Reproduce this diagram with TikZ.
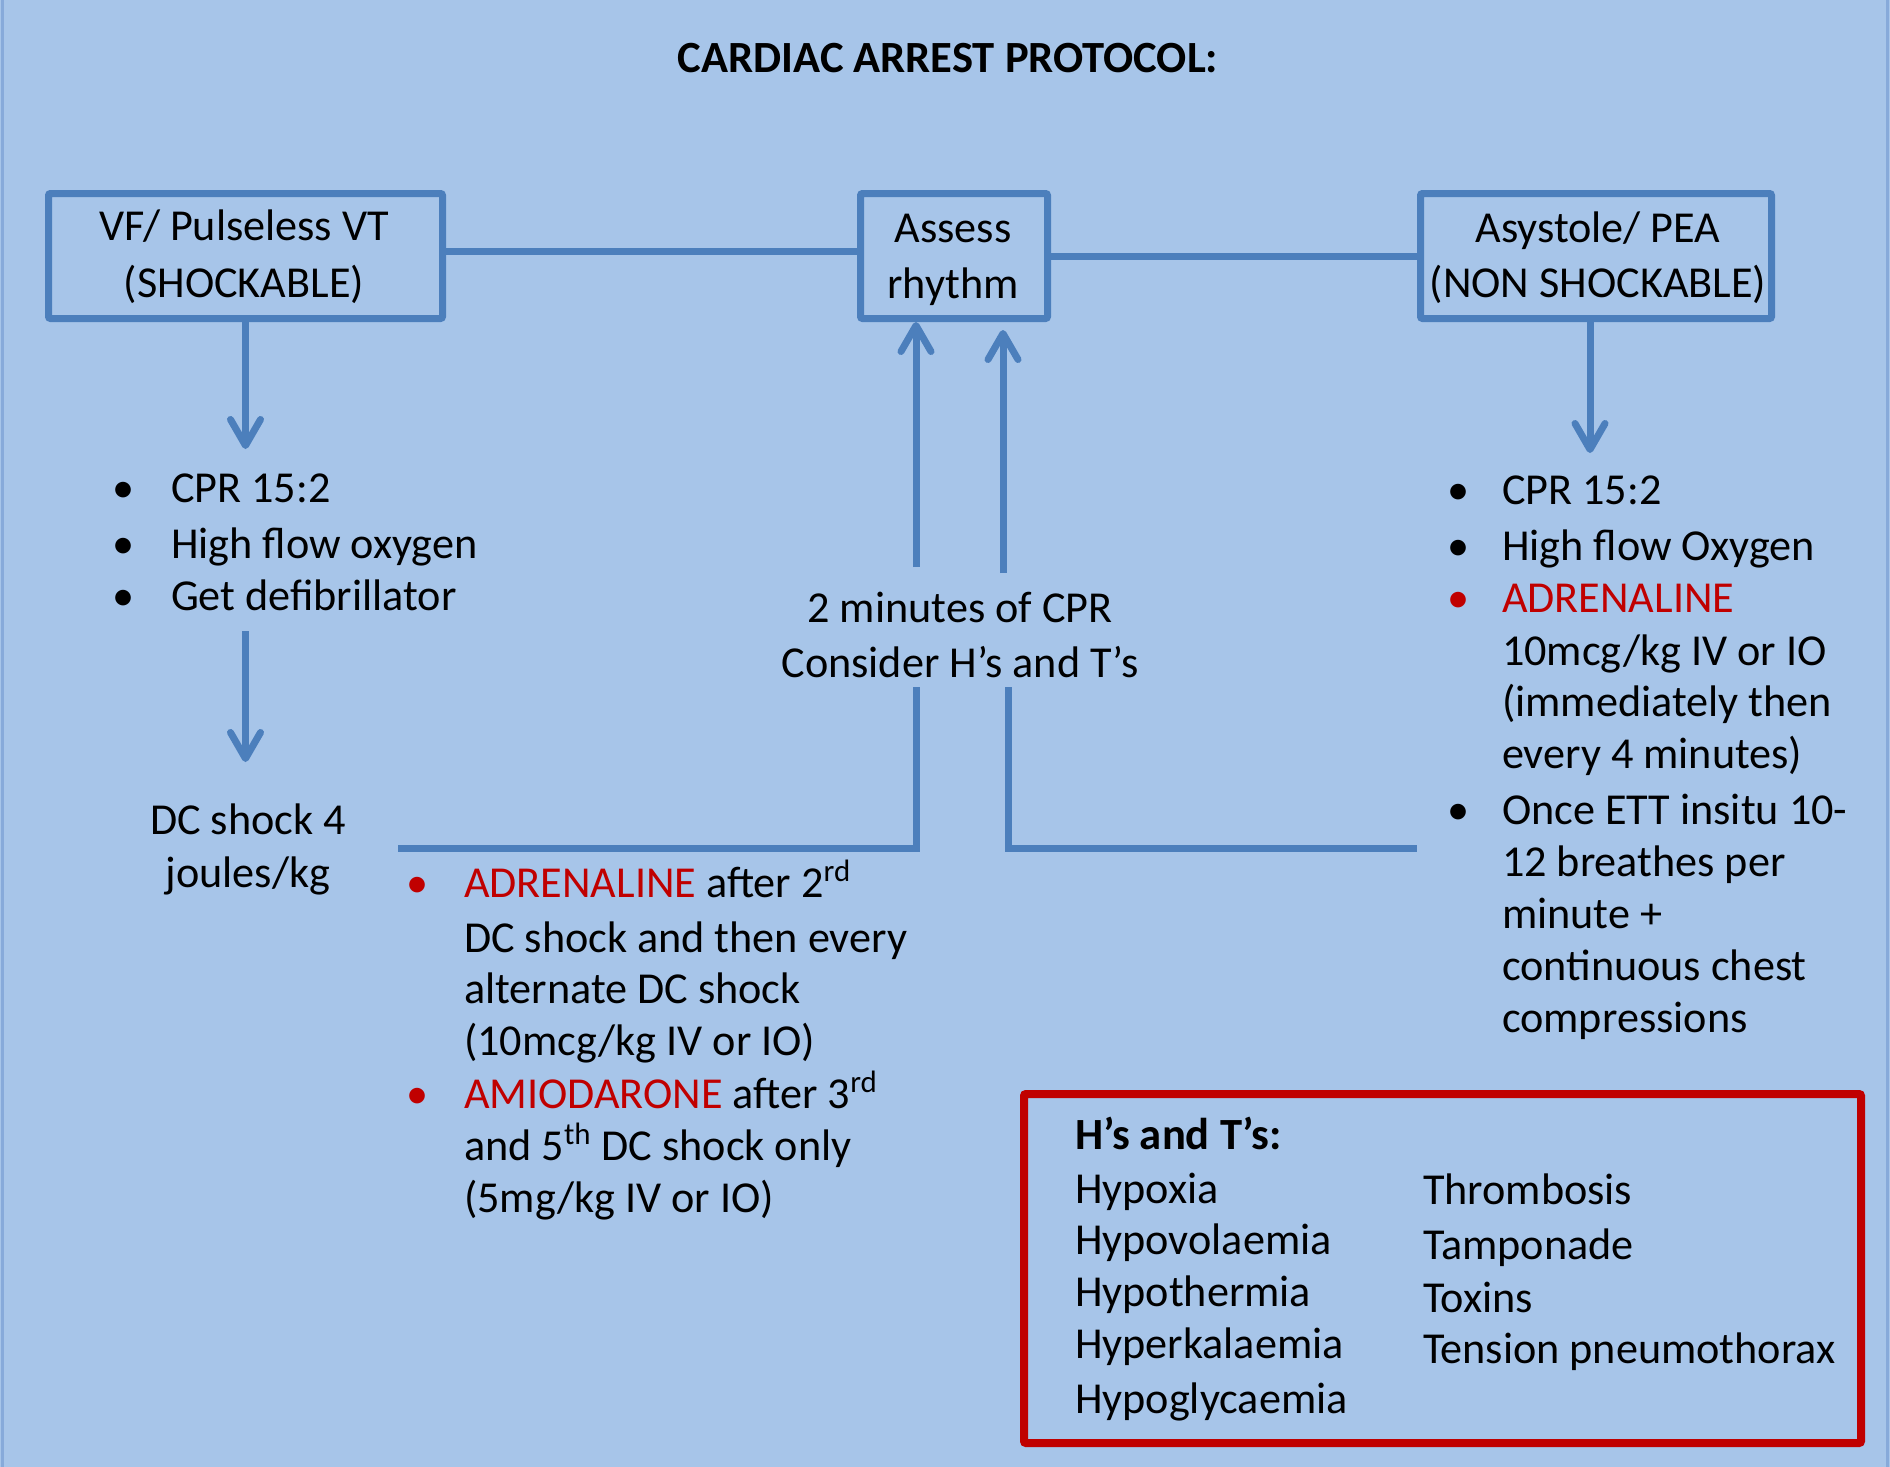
\documentclass[tikz,border=0pt]{standalone}
\usepackage{fontspec}
\setmainfont{Carlito}
\usetikzlibrary{arrows.meta}
\definecolor{bgblue}{RGB}{167,197,233}
\definecolor{lineblue}{RGB}{76,127,188}
\definecolor{redc}{RGB}{192,0,0}
\definecolor{edgeblue}{RGB}{135,170,218}
\newcommand\cafont{\fontsize{22.1pt}{26pt}\selectfont}
\newcommand\catitle{\fontsize{22.3pt}{26pt}\selectfont\bfseries}
\begin{document}
\begin{tikzpicture}[x=0.5pt,y=-0.5pt,
  txt/.style={inner sep=0pt, outer sep=0pt, anchor=base west, font=\cafont},
  ctr/.style={inner sep=0pt, outer sep=0pt, anchor=base, font=\cafont},
  bul/.style={inner sep=0pt, outer sep=0pt, anchor=base, font=\cafont},
  flowbox/.style={draw=lineblue, line width=3.5pt, inner sep=0pt, rounded corners=1pt, minimum height=62.5pt},
  conn/.style={draw=lineblue, line width=3.5pt, line join=miter},
  arr/.style={conn, -{Straight Barb[round, length=13pt, width=15pt]}}
]
\fill[bgblue] (0,0) rectangle (1890,1467);
\useasboundingbox (0,0) rectangle (1890,1467);
\draw[edgeblue, line width=1.5pt] (2.5,0) -- (2.5,1467);
\draw[edgeblue, line width=1.5pt] (1887.5,0) -- (1887.5,1467);

% title
\node[ctr, font=\catitle] (title) at (948,72) {CARDIAC ARREST PROTOCOL:};

% boxes
\node[flowbox, minimum width=197pt] (lbox) at (245.5,256) {};
\node[flowbox, minimum width=93.5pt] (cbox) at (954,256) {};
\node[flowbox, minimum width=175.5pt] (rbox) at (1596,256) {};
\node[ctr] (lboxa) at (244,240) {VF/ Pulseless VT};
\node[ctr] (lboxb) at (244,297) {(SHOCKABLE)};
\node[ctr] (cboxa) at (953,242) {Assess};
\node[ctr] (cboxb) at (953,298) {rhythm};
\node[ctr] (rboxa) at (1598,242) {Asystole/ PEA};
\node[ctr] (rboxb) at (1598,297) {(NON SHOCKABLE)};

% left column
\node[bul] (lb1) at (124,502) {•};
\node[txt] (lt1) at (171,502) {CPR 15:2};
\node[bul] (lb2) at (124,558) {•};
\node[txt] (lt2) at (171,558) {High flow oxygen};
\node[bul] (lb3) at (124,610) {•};
\node[txt] (lt3) at (171,610) {Get defibrillator};
\node[ctr] (dc1) at (248,834) {DC shock 4};
\node[ctr] (dc2) at (248,887) {joules/kg};

% centre text
\node[ctr] (m1) at (960,622) {2 minutes of CPR};
\node[ctr] (m2) at (960,677) {Consider H’s and T’s};

% middle drugs list
\node[bul, text=redc] (mb1) at (418,897) {•};
\node[txt] (mt1) at (464,897) {\textcolor{redc}{ADRENALINE} after 2\textsuperscript{rd}};
\node[txt] (mt2) at (464,952) {DC shock and then every};
\node[txt] (mt3) at (464,1003) {alternate DC shock};
\node[txt] (mt4) at (464,1055) {(10mcg/kg IV or IO)};
\node[bul, text=redc] (mb2) at (418,1108) {•};
\node[txt] (mt5) at (464,1108) {\textcolor{redc}{AMIODARONE} after 3\textsuperscript{rd}};
\node[txt] (mt6) at (464,1160) {and 5\textsuperscript{th} DC shock only};
\node[txt] (mt7) at (464,1212) {(5mg/kg IV or IO)};

% right column
\node[bul] (rb1) at (1458,504) {•};
\node[txt] (rt1) at (1502,504) {CPR 15:2};
\node[bul] (rb2) at (1458,560) {•};
\node[txt] (rt2) at (1502,560) {High flow Oxygen};
\node[bul, text=redc] (rb3) at (1458,612) {•};
\node[txt, text=redc] (rt3) at (1502,612) {ADRENALINE};
\node[txt] (rt4) at (1502,665) {10mcg/kg IV or IO};
\node[txt] (rt5) at (1502,716) {(immediately then};
\node[txt] (rt6) at (1502,768) {every 4 minutes)};
\node[bul] (rb4) at (1458,824) {•};
\node[txt] (rt7) at (1502,824) {Once ETT insitu 10-};
\node[txt] (rt8) at (1502,876) {12 breathes per};
\node[txt] (rt9) at (1502,928) {minute +};
\node[txt] (rt10) at (1502,980) {continuous chest};
\node[txt] (rt11) at (1502,1032) {compressions};

% H's and T's box
\node[draw=redc, line width=4pt, inner sep=0pt, rounded corners=1pt, minimum width=418.5pt, minimum height=174.5pt] (hbox) at (1442.5,1268.5) {};
\node[txt, font=\catitle] (hh) at (1075,1149) {H’s and T’s:};
\node[txt] (h1) at (1075,1203) {Hypoxia};
\node[txt] (h2) at (1075,1254) {Hypovolaemia};
\node[txt] (h3) at (1075,1306) {Hypothermia};
\node[txt] (h4) at (1075,1358) {Hyperkalaemia};
\node[txt] (h5) at (1075,1413) {Hypoglycaemia};
\node[txt] (t1) at (1423,1204) {Thrombosis};
\node[txt] (t2) at (1423,1259) {Tamponade};
\node[txt] (t3) at (1423,1312) {Toxins};
\node[txt] (t4) at (1423,1363) {Tension pneumothorax};

% coordinates for free ends
\coordinate (la1) at (245.5,449);
\coordinate (la2s) at (245.5,631);
\coordinate (la2e) at (245.5,762);
\coordinate (ra1) at (1590,453);
\coordinate (ca1s) at (916,567);
\coordinate (ca2s) at (1003,573);
\coordinate (ca2e) at (1003,330);
\coordinate (lh) at (398,848);
\coordinate (lc) at (916,848);
\coordinate (lv) at (916,687);
\coordinate (rv) at (1008,687);
\coordinate (rc) at (1008,848);

% connectors
\draw[conn] ([yshift=2.5pt]lbox.east) -- ([yshift=2.5pt]cbox.west);
\draw[conn] (cbox.east) -- (rbox.west);
\draw[arr] (lbox.south) -- (la1);
\draw[arr] (la2s) -- (la2e);
\draw[arr] ([xshift=-3pt]rbox.south) -- (ra1);
\draw[arr] (ca1s) -- (ca1s |- cbox.south);
\draw[arr] (ca2s) -- (ca2e);
\draw[conn] (lh) -- (lc) -- (lv);
\draw[conn] (rv) -- (rc) -- (rc -| rbox.west);
\end{tikzpicture}
\end{document}
